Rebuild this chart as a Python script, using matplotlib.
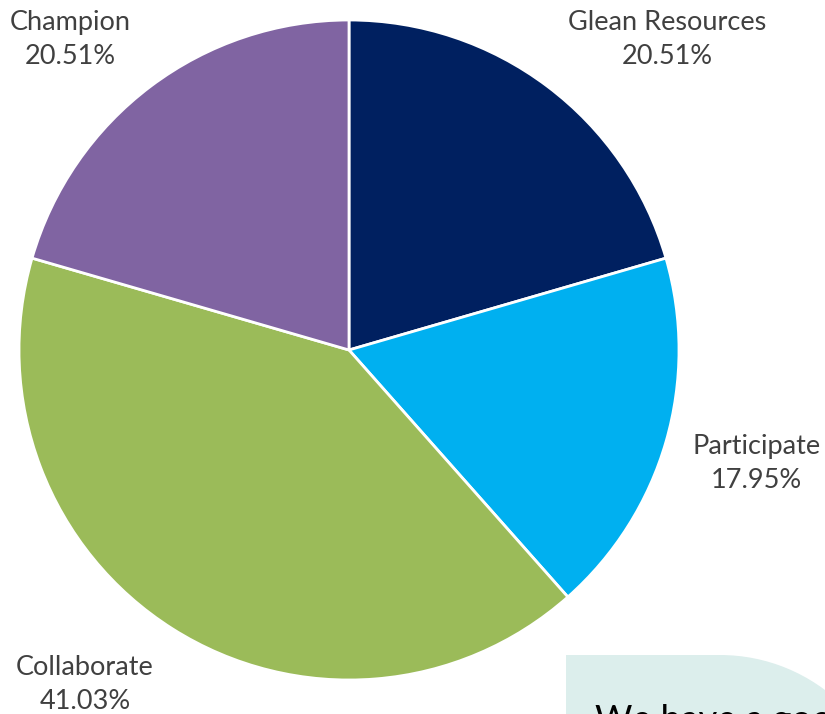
import matplotlib.pyplot as plt
from matplotlib.patches import Rectangle, Circle

# shares of responses by engagement level
categories = ["Glean Resources", "Participate", "Collaborate", "Champion"]
percents = [20.51, 17.95, 41.03, 20.51]
colors = ["#002060", "#00B0F0", "#9BBB59", "#8064A2"]

# label anchors (in pie radius units) and overlay caption
label_pos = [(0.964, 0.942), (1.236, -0.343), (-0.80, -1.013), (-0.845, 0.942)]
caption = "We have a good"

W, H = 825, 714
fig = plt.figure(figsize=(W / 100, H / 100), dpi=100)

# background layer in pixel units for the callout box
bg = fig.add_axes([0, 0, 1, 1], zorder=0)
bg.set_xlim(0, W)
bg.set_ylim(H, 0)
bg.axis("off")
box_color = "#DCEEEC"
bg.add_patch(Rectangle((566, 655), 720 - 566, 100, color=box_color, lw=0))
bg.add_patch(Circle((720, 830), 175, color=box_color, lw=0))
bg.text(595, 731, caption, fontsize=26, color="black", family="Lato",
        va="baseline", clip_on=False)

cx, cy, r = 349, 350, 330
ax = fig.add_axes([(cx - r) / W, (H - cy - r) / H, 2 * r / W, 2 * r / H], zorder=1)
ax.pie(percents, colors=colors, startangle=90, counterclock=False,
       wedgeprops=dict(edgecolor="white", linewidth=2))
ax.set_xlim(-1, 1)
ax.set_ylim(-1, 1)
ax.set_aspect("equal")
ax.axis("off")

for name, pct, (x, y) in zip(categories, percents, label_pos):
    ax.text(x, y, f"{name}\n{pct:.2f}%", ha="center", va="center",
            fontsize=19.5, color="#404040", family="Lato",
            linespacing=1.45, clip_on=False)

fig.savefig("out.png", dpi=100)
